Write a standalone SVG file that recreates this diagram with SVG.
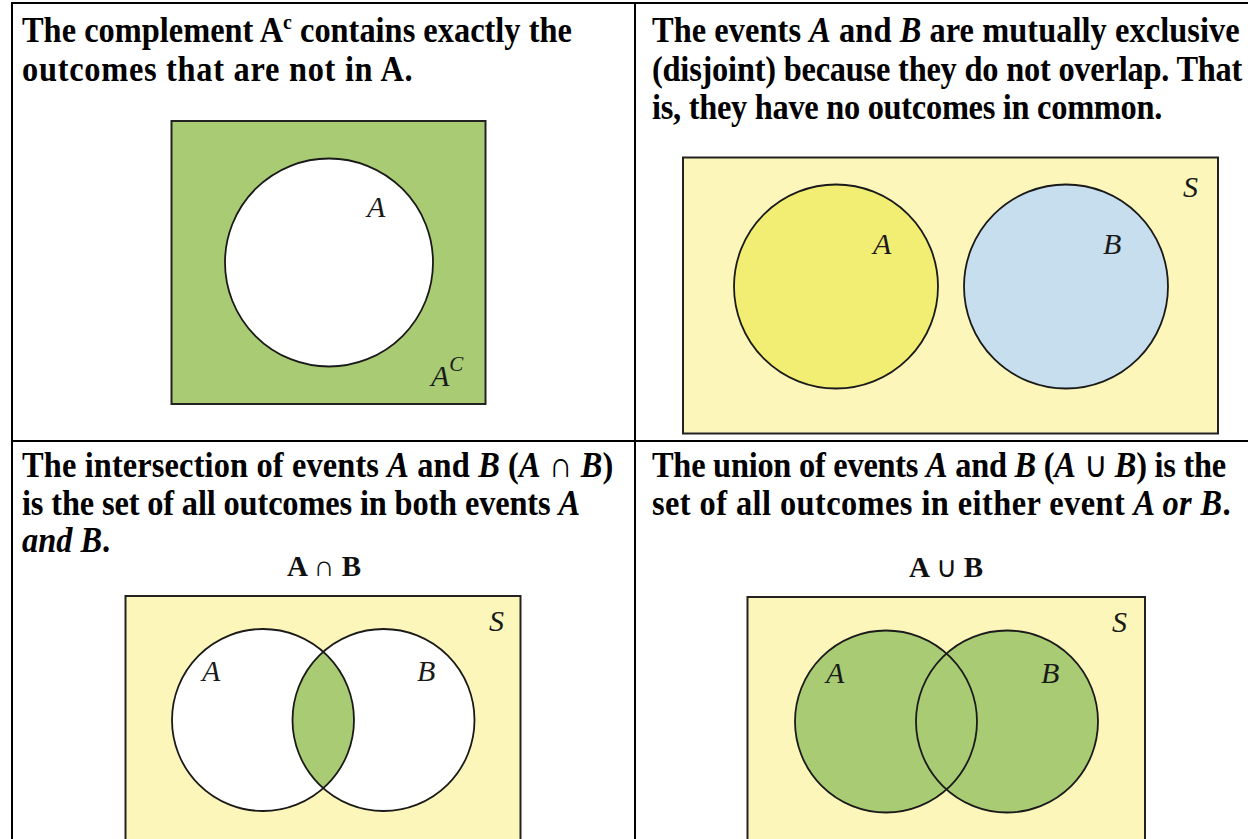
<svg xmlns="http://www.w3.org/2000/svg" width="1248" height="839" viewBox="0 0 1248 839">
  <style>
    .head { font-family: "Liberation Serif", "Times New Roman", serif; font-weight: bold; font-size: 36px; fill: #000; }
    .it { font-style: italic; }
    .thin { font-weight: normal; }
    .lbl { font-family: "Liberation Serif", "Times New Roman", serif; font-style: italic; font-size: 30px; fill: #1a1a1a; }
    .op { font-family: "Liberation Serif", "Times New Roman", serif; font-weight: bold; font-size: 29px; fill: #111; }
    .grid { stroke: #000; stroke-width: 2; fill: none; }
    .frame { stroke: #222; stroke-width: 2; }
    .ring { stroke: #1a1a1a; stroke-width: 1.8; }
    .bg { fill: #fcf6bb; }
    .green { fill: #a8cb73; }
  </style>
  <defs>
    <clipPath id="clipA3"><circle cx="263" cy="720" r="91"/></clipPath>
  </defs>
  <rect width="1248" height="839" fill="#fff"/>

  <g id="table">
    <line class="grid" x1="12" y1="3" x2="1248" y2="3"/>
    <line class="grid" x1="12" y1="441" x2="1248" y2="441"/>
    <line class="grid" x1="12" y1="2" x2="12" y2="839"/>
    <line class="grid" x1="635" y1="2" x2="635" y2="839"/>
  </g>

  <g id="complement">
    <text class="head" transform="translate(22,42) scale(0.9,1)" textLength="611">The complement A<tspan font-size="22" dy="-13">c</tspan><tspan dy="13"> contains exactly the</tspan></text>
    <text class="head" transform="translate(22,81) scale(0.9,1)" textLength="434">outcomes that are not in A.</text>
    <rect class="green frame" x="171.5" y="121" width="314" height="283"/>
    <circle class="ring" cx="329" cy="262.5" r="104" fill="#fff"/>
    <text class="lbl" x="367" y="217">A</text>
    <text class="lbl" x="431" y="386">A<tspan font-size="21" dy="-15">C</tspan></text>
  </g>

  <g id="disjoint">
    <text class="head" transform="translate(652,42) scale(0.9,1)" textLength="653">The events <tspan class="it">A</tspan> and <tspan class="it">B</tspan> are mutually exclusive</text>
    <text class="head" transform="translate(652,81) scale(0.9,1)" textLength="656">(disjoint) because they do not overlap. That</text>
    <text class="head" transform="translate(652,119) scale(0.9,1)" textLength="567">is, they have no outcomes in common.</text>
    <rect class="bg frame" x="683" y="157.5" width="535" height="276"/>
    <circle class="ring" cx="836" cy="286.5" r="102" fill="#f2ee73"/>
    <circle class="ring" cx="1066" cy="286.5" r="102" fill="#c6deee"/>
    <text class="lbl" x="873" y="254">A</text>
    <text class="lbl" x="1103" y="254">B</text>
    <text class="lbl" x="1183" y="197">S</text>
  </g>

  <g id="intersection">
    <text class="head" transform="translate(22,477) scale(0.9,1)" textLength="657">The intersection of events <tspan class="it">A</tspan> and <tspan class="it">B</tspan> (<tspan class="it">A</tspan> <tspan class="thin">∩</tspan> <tspan class="it">B</tspan>)</text>
    <text class="head" transform="translate(22,515) scale(0.9,1)" textLength="620">is the set of all outcomes in both events <tspan class="it">A</tspan></text>
    <text class="head" transform="translate(22,552) scale(0.9,1)"><tspan class="it">and B</tspan>.</text>
    <text class="op" x="324" y="576" text-anchor="middle">A <tspan class="thin">∩</tspan> B</text>
    <rect class="bg frame" x="125.5" y="596" width="395" height="260"/>
    <circle cx="263" cy="720" r="91" fill="#fff"/>
    <circle cx="383.5" cy="720" r="91" fill="#fff"/>
    <circle class="green" cx="383.5" cy="720" r="91" clip-path="url(#clipA3)"/>
    <circle class="ring" cx="263" cy="720" r="91" fill="none"/>
    <circle class="ring" cx="383.5" cy="720" r="91" fill="none"/>
    <text class="lbl" x="202" y="681">A</text>
    <text class="lbl" x="417" y="681">B</text>
    <text class="lbl" x="489" y="631">S</text>
  </g>

  <g id="union">
    <text class="head" transform="translate(652,477) scale(0.9,1)" textLength="638">The union of events <tspan class="it">A</tspan> and <tspan class="it">B</tspan> (<tspan class="it">A</tspan> <tspan class="thin">∪</tspan> <tspan class="it">B</tspan>) is the</text>
    <text class="head" transform="translate(652,515) scale(0.9,1)" textLength="643">set of all outcomes in either event <tspan class="it">A or B</tspan>.</text>
    <text class="op" x="946" y="577" text-anchor="middle">A <tspan class="thin">∪</tspan> B</text>
    <rect class="bg frame" x="747.5" y="597" width="397.5" height="260"/>
    <circle class="green" cx="886" cy="721.5" r="91"/>
    <circle class="green" cx="1007" cy="721.5" r="91"/>
    <circle class="ring" cx="886" cy="721.5" r="91" fill="none"/>
    <circle class="ring" cx="1007" cy="721.5" r="91" fill="none"/>
    <text class="lbl" x="826" y="683">A</text>
    <text class="lbl" x="1041" y="683">B</text>
    <text class="lbl" x="1112" y="632">S</text>
  </g>
</svg>
